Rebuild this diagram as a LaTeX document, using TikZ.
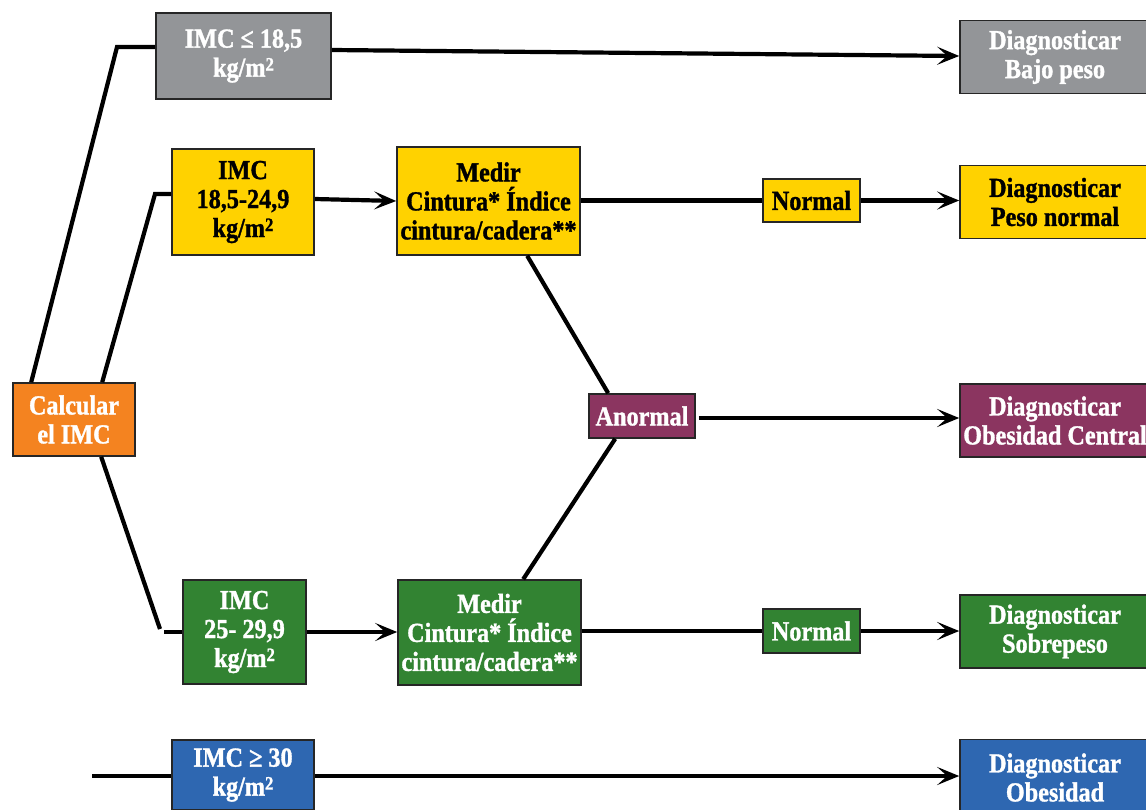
\documentclass[tikz,border=0pt]{standalone}
\usepackage{fontspec}
\setmainfont{Liberation Serif}[FakeStretch=0.88, BoldFeatures={FakeBold=1.2}]
\usetikzlibrary{arrows.meta,calc}
\definecolor{cgray}{RGB}{147,149,152}
\definecolor{cyellow}{RGB}{255,210,0}
\definecolor{corange}{RGB}{244,131,32}
\definecolor{cpurple}{RGB}{139,53,96}
\definecolor{cgreen}{RGB}{50,131,50}
\definecolor{cblue}{RGB}{46,103,177}
\newcommand{\msq}{m\raisebox{6pt}{\fontsize{19}{19}\selectfont 2}}
\tikzset{
  box/.style={draw=black!85, line width=1.6pt, inner sep=0pt, align=center,
    font=\bfseries\fontsize{27.5}{29}\selectfont},
  wbox/.style={box, text=white},
  conn/.style={line width=4.2pt, line join=miter},
  arr/.style={conn, -{Stealth[length=22pt,width=18pt,inset=10pt]}},
}
\begin{document}
\begin{tikzpicture}[x=1pt,y=-1pt]
\useasboundingbox (0,0) rectangle (1146,809);
\clip (0,0) rectangle (1146,809);
% nodes
\node[wbox, fill=cgray, minimum width=175pt, minimum height=86pt] (gray) at (243.5,56) {IMC ≤ 18,5\\kg/\msq};
\node[wbox, fill=cgray, minimum width=190pt, minimum height=73pt] (bajo) at (1055,57) {Diagnosticar\\Bajo peso};
\node[box, fill=cyellow, minimum width=142pt, minimum height=106pt] (y1) at (243,202) {IMC\\18,5-24,9\\kg/\msq};
\node[box, fill=cyellow, minimum width=183pt, minimum height=108pt] (ymed) at (488.5,201) {Medir\\Cintura* Índice\\cintura/cadera**};
\node[box, fill=cyellow, minimum width=97pt, minimum height=43pt] (ynorm) at (811.5,200.5) {Normal};
\node[box, fill=cyellow, minimum width=190pt, minimum height=73pt] (pnorm) at (1055,202) {Diagnosticar\\Peso normal};
\node[wbox, fill=corange, minimum width=122pt, minimum height=73pt] (calc) at (74,419.5) {Calcular\\el IMC};
\node[wbox, fill=cpurple, minimum width=106pt, minimum height=44pt] (anorm) at (642,416) {Anormal};
\node[wbox, fill=cpurple, minimum width=190pt, minimum height=73pt] (obcen) at (1055,420.5) {Diagnosticar\\Obesidad Central};
\node[wbox, fill=cgreen, minimum width=123pt, minimum height=104pt] (g1) at (244.5,632) {IMC\\25- 29,9\\kg/\msq};
\node[wbox, fill=cgreen, minimum width=183pt, minimum height=105pt] (gmed) at (489.5,632.5) {Medir\\Cintura* Índice\\cintura/cadera**};
\node[wbox, fill=cgreen, minimum width=97pt, minimum height=44pt] (gnorm) at (811.5,631) {Normal};
\node[wbox, fill=cgreen, minimum width=190pt, minimum height=73pt] (sobre) at (1055,631.5) {Diagnosticar\\Sobrepeso};
\node[wbox, fill=cblue, minimum width=142pt, minimum height=70pt] (b1) at (243,775) {IMC ≥ 30\\kg/\msq};
\node[wbox, fill=cblue, minimum width=190pt, minimum height=76pt] (obes) at (1055,777.5) {Diagnosticar\\Obesidad};
% coordinates
\coordinate (a1) at (117,47);
\coordinate (a2) at (155,194);
\coordinate (a3) at (160,629);
\coordinate (a4) at (164,632);
\coordinate (a5) at (92,776);
\coordinate (h1) at (0,418);
% connectors
\draw[conn] ($(calc.north west)+(19,0)$) -- (a1) -- (gray.west |- a1);
\draw[arr] ($(gray.east)+(0,-6)$) -- ($(bajo.west)+(0,-1)$);
\draw[conn] ($(calc.north west)+(90,0)$) -- (a2) -- (y1.west |- a2);
\draw[arr] ($(y1.east)+(0,-3)$) -- (ymed.west);
\draw[conn] (ymed.east |- ynorm.west) -- (ynorm.west);
\draw[arr] (ynorm.east) -- (pnorm.west |- ynorm.east);
\draw[conn] ($(ymed.south west)+(131,0)$) -- ($(anorm.north west)+(20,0)$);
\draw[arr, shorten <=3pt] (anorm.east |- h1) -- (obcen.west |- h1);
\draw[conn] ($(anorm.south west)+(27,0)$) -- ($(gmed.north west)+(126,0)$);
\draw[conn] ($(calc.south west)+(89,0)$) -- (a3);
\draw[conn] (a4) -- (g1.west);
\draw[arr] (g1.east) -- (gmed.west |- g1.east);
\draw[conn] (gmed.east |- gnorm.west) -- (gnorm.west);
\draw[arr] (gnorm.east) -- (sobre.west |- gnorm.east);
\draw[conn] (a5) -- (b1.west |- a5);
\draw[arr] (b1.east |- a5) -- (obes.west |- a5);
\end{tikzpicture}
\end{document}
